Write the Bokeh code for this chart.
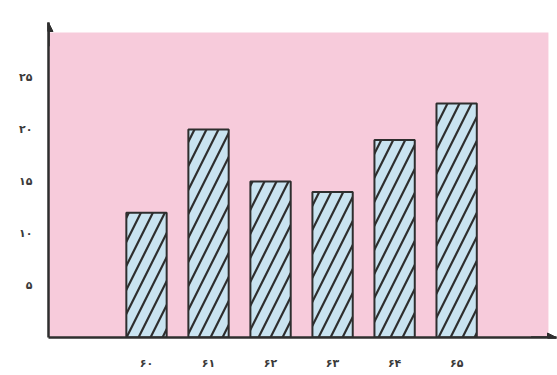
from bokeh.plotting import figure
from bokeh.models import Range1d, FixedTicker, BoxAnnotation, Arrow, NormalHead
from bokeh.embed import file_html
from bokeh.resources import INLINE

years = [60, 61, 62, 63, 64, 65]
year_labels = ["۶۰", "۶۱", "۶۲", "۶۳", "۶۴", "۶۵"]
values = [12, 20, 15, 14, 19, 22.5]
y_ticks = [5, 10, 15, 20, 25]
y_tick_labels = ["۵", "۱۰", "۱۵", "۲۰", "۲۵"]

PINK = "#f7cbdb"
BLUE = "#c9e3f0"
INK = "#2e2e2e"

p = figure(width=557, height=375, output_backend="svg", toolbar_location=None,
           x_range=Range1d(58.42, 66.61), y_range=Range1d(0, 30.29),
           min_border_left=48, min_border_right=1, min_border_top=22, min_border_bottom=38)
p.background_fill_color = "white"
p.border_fill_color = "white"
p.outline_line_color = None
p.grid.visible = False

p.add_layout(BoxAnnotation(left=58.42, right=66.48, bottom=0, top=29.33,
                           fill_color=PINK, fill_alpha=1, line_color=None, level="underlay"))

p.vbar(x=years, top=values, width=0.65, bottom=0,
       fill_color=BLUE, line_color=INK, line_width=2,
       hatch_pattern="/", hatch_color=INK, hatch_weight=2.2, hatch_scale=24)

for ax in (p.xaxis[0], p.yaxis[0]):
    ax.axis_line_color = INK
    ax.axis_line_width = 2.5
    ax.major_tick_line_color = None
    ax.minor_tick_line_color = None
    ax.major_label_text_color = "#3a3a3a"
    ax.major_label_text_font = "DejaVu Sans"
    ax.major_label_text_font_style = "bold"
    ax.major_label_text_font_size = "11px"

p.xaxis.ticker = FixedTicker(ticks=years)
p.xaxis.major_label_overrides = {y: l for y, l in zip(years, year_labels)}
p.xaxis.major_label_standoff = 13
p.yaxis.ticker = FixedTicker(ticks=y_ticks)
p.yaxis.major_label_overrides = {t: l for t, l in zip(y_ticks, y_tick_labels)}
p.yaxis.major_label_standoff = 10

p.add_layout(Arrow(end=NormalHead(size=9, fill_color=INK, line_color=INK),
                   x_start=58.42, y_start=28, x_end=58.42, y_end=30.29,
                   line_color=INK, line_width=2.5))
p.add_layout(Arrow(end=NormalHead(size=9, fill_color=INK, line_color=INK),
                   x_start=66.2, y_start=0, x_end=66.61, y_end=0,
                   line_color=INK, line_width=2.5))

open("out.html", "w").write(file_html(p, INLINE))
